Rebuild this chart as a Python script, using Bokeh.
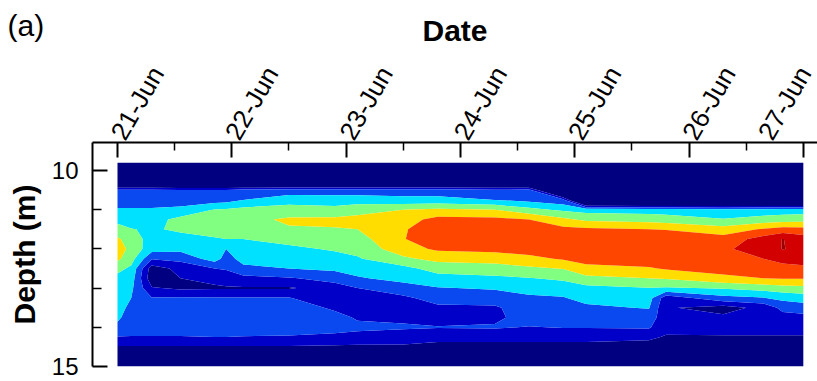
import numpy as np
from bokeh.plotting import figure
from bokeh.models import Range1d, FixedTicker
from bokeh.embed import file_html
from bokeh.resources import INLINE

# ---- data ----
# time of each profile, in days after 21-Jun 00:00
days = [0.0, 0.12, 0.30, 0.55, 0.85, 0.95, 1.10, 1.50, 1.90, 2.10, 2.50,
        2.80, 3.30, 3.60, 3.90, 4.10, 4.65, 4.80, 5.30, 5.65, 5.82, 6.00]
# depth of each value in a profile (m)
depths = [9.8, 10.0, 10.25, 10.5, 10.75, 11.0, 11.25, 11.5, 11.75, 12.0, 12.25,
          12.5, 12.75, 13.0, 13.25, 13.5, 13.75, 14.0, 14.25, 14.5, 14.75, 15.0]

# contoured quantity, one profile per time (top to bottom)
z_000 = [-3, -3, -3, 2.2, 2.55, 3.1, 3.7, 4.4, 5.15, 5.5, 5.2, 4.3, 3.7, 3.5, 3.4, 3.3, 3.15, 2.8, 1.95, 0.9, 0.4, 0.3]
z_012 = [-3, -3, -3, 2.2, 2.55, 3.1, 3.5, 4.05, 4.5, 4.7, 4.4, 3.8, 3.5, 3.2, 3.0, 2.8, 2.6, 2.4, 1.95, 0.9, 0.4, 0.3]
z_030 = [-3, -3, -3, 2.2, 2.55, 3.1, 3.6, 3.85, 3.6, 3.4, 2.1, 0.5, 0.3, 1.1, 2.05, 2.5, 2.6, 2.4, 1.95, 0.9, 0.4, 0.3]
z_055 = [-3, -3, -3, 2.1, 2.6, 3.2, 4.3, 4.2, 3.6, 3.3, 2.3, 1.3, 1.0, 0.8, 2.1, 2.5, 2.6, 2.45, 1.95, 0.9, 0.4, 0.3]
z_085 = [-3, -3, -3, 2.1, 2.5, 4.05, 4.5, 4.45, 3.9, 3.6, 3.45, 2.0, 1.2, 0.9, 2.05, 2.5, 2.6, 2.5, 2.0, 0.9, 0.4, 0.3]
z_095 = [-3, -3, -3, 2.1, 2.6, 4.1, 4.6, 4.5, 4.0, 3.0, 2.6, 2.1, 1.4, 0.9, 2.05, 2.5, 2.6, 2.5, 2.0, 0.9, 0.4, 0.3]
z_110 = [-3, -3, -3, 2.3, 3.0, 4.3, 4.7, 4.6, 4.0, 3.6, 3.35, 2.75, 1.7, 0.9, 2.05, 2.5, 2.6, 2.5, 1.95, 0.9, 0.4, 0.3]
z_150 = [-3, -3, -3, 2.4, 3.6, 4.4, 5.15, 4.9, 4.3, 3.8, 3.5, 3.0, 1.9, 0.9, 2.05, 2.5, 2.6, 2.5, 1.9, 0.9, 0.4, 0.3]
z_190 = [-3, -3, -3, 2.45, 3.5, 4.3, 5.2, 4.95, 4.5, 4.1, 3.7, 3.2, 2.4, 1.5, 1.3, 1.85, 2.3, 2.3, 1.8, 0.85, 0.4, 0.3]
z_210 = [-3, -3, -3, 2.45, 3.5, 4.6, 5.3, 5.0, 4.6, 4.3, 3.9, 3.4, 2.9, 2.0, 1.4, 1.3, 1.9, 2.2, 1.7, 0.8, 0.4, 0.3]
z_250 = [-3, -3, -3, 2.5, 3.3, 5.0, 5.6, 5.9, 5.95, 5.6, 4.8, 3.7, 3.3, 2.6, 1.8, 1.3, 1.85, 2.1, 1.6, 0.8, 0.4, 0.3]
z_280 = [-3, -3, -3, 2.5, 3.3, 5.2, 6.3, 6.6, 6.6, 6.15, 5.3, 4.4, 3.6, 2.95, 2.4, 1.8, 1.6, 2.05, 1.3, 0.7, 0.4, 0.3]
z_330 = [-3, -3, -3, 2.2, 3.0, 5.0, 6.25, 6.6, 6.6, 6.3, 5.45, 4.55, 3.8, 3.1, 2.5, 1.85, 1.8, 2.1, 1.3, 0.7, 0.4, 0.3]
z_360 = [-3, -3, -3, 2.3, 2.7, 4.3, 6.0, 6.5, 6.6, 6.4, 5.75, 4.8, 3.95, 3.3, 2.85, 2.6, 2.4, 1.95, 1.3, 0.7, 0.4, 0.3]
z_390 = [-3, -3, -3, -3, 2.3, 3.8, 5.2, 6.3, 6.7, 6.6, 6.1, 5.05, 4.2, 3.4, 2.95, 2.7, 2.5, 2.05, 1.3, 0.7, 0.4, 0.3]
z_410 = [-3, -3, -3, -3, -3, 3.6, 4.8, 6.2, 6.7, 6.8, 6.5, 5.6, 4.75, 3.7, 3.25, 2.85, 2.5, 2.05, 1.3, 0.7, 0.4, 0.3]
z_465 = [-3, -3, -3, -3, -3, 3.55, 4.6, 6.0, 6.6, 6.75, 6.55, 5.9, 5.0, 3.95, 3.4, 3.05, 2.55, 2.1, 1.2, 0.6, 0.4, 0.3]
z_480 = [-3, -3, -3, -3, -3, 3.45, 4.5, 5.95, 6.6, 6.8, 6.6, 6.1, 5.1, 3.9, 1.4, 1.1, 1.3, 1.3, 0.9, 0.5, 0.4, 0.3]
z_530 = [-3, -3, -3, -3, -3, 3.3, 4.05, 5.45, 6.4, 6.8, 6.85, 6.4, 5.75, 4.1, 2.7, 0.6, 1.2, 1.4, 0.9, 0.5, 0.4, 0.3]
z_565 = [-3, -3, -3, -3, -3, 3.35, 4.4, 6.1, 7.4, 7.6, 7.0, 6.5, 6.0, 4.4, 2.95, 1.3, 1.5, 1.4, 0.9, 0.5, 0.4, 0.3]
z_582 = [-3, -3, -3, -3, -3, 3.45, 4.5, 6.4, 8.03, 8.03, 7.3, 6.7, 6.05, 4.6, 3.3, 2.3, 1.6, 1.4, 0.9, 0.5, 0.4, 0.3]
z_600 = [-3, -3, -3, -3, -3, 3.5, 4.6, 6.3, 7.5, 7.8, 7.4, 6.8, 6.05, 4.7, 3.5, 2.5, 1.7, 1.4, 0.9, 0.5, 0.4, 0.3]

levels = [-4, 1, 2, 3, 4, 5, 6, 7, 8, 9]
level_colors = ["#000080", "#0000c8", "#0a48f0", "#00e1ff", "#80ff80",
                "#ffdd00", "#ff4600", "#d20000", "#9b0000"]

tick_days = [0, 1, 2, 3, 4, 5, 6]
tick_labels = ["21-Jun", "22-Jun", "23-Jun", "24-Jun", "25-Jun", "26-Jun", "27-Jun"]
minor_days = [0.5, 1.5, 2.5, 3.5, 4.5, 5.5]
depth_ticks = [10, 15]
depth_minor = [11, 12, 13, 14]

z = np.column_stack([z_000, z_012, z_030, z_055, z_085, z_095, z_110, z_150, z_190,
                     z_210, z_250, z_280, z_330, z_360, z_390, z_410, z_465, z_480,
                     z_530, z_565, z_582, z_600])

FONT = "Liberation Sans"

p = figure(width=817, height=381, output_backend="svg", toolbar_location=None,
           x_range=Range1d(-0.2187, 6.124), y_range=Range1d(15.0, 9.2857),
           x_axis_location="above",
           min_border_left=92, min_border_top=142, min_border_bottom=15,
           min_border_right=0)
p.outline_line_color = None
p.grid.visible = False
p.background_fill_color = "white"
p.border_fill_color = "white"

# panel tag "(a)" as the figure title, pulled into the top-left corner
p.title.text = "(a)"
p.title.align = "left"
p.title.offset = -85
p.title.standoff = -62
p.title.text_font = FONT
p.title.text_font_size = "30px"
p.title.text_font_style = "normal"
p.title.text_color = "black"

p.contour(x=days, y=depths, z=z, levels=levels, fill_color=level_colors)

xa = p.xaxis[0]
xa.ticker = FixedTicker(ticks=tick_days, minor_ticks=minor_days)
xa.major_label_overrides = {d: lab for d, lab in zip(tick_days, tick_labels)}
xa.major_label_orientation = np.pi / 3
xa.major_label_text_font = FONT
xa.major_label_text_font_size = "26px"
xa.major_label_text_color = "black"
xa.major_label_standoff = 5
xa.axis_label = "Date"
xa.axis_label_text_font = FONT
xa.axis_label_text_font_size = "30px"
xa.axis_label_text_font_style = "bold"
xa.axis_label_text_color = "black"
xa.axis_label_standoff = 4
xa.axis_line_width = 2
xa.major_tick_line_width = 2
xa.minor_tick_line_width = 1.5
xa.major_tick_in = 15
xa.major_tick_out = 0
xa.minor_tick_in = 8
xa.minor_tick_out = 0

ya = p.yaxis[0]
ya.ticker = FixedTicker(ticks=depth_ticks, minor_ticks=depth_minor)
ya.major_label_text_font = FONT
ya.major_label_text_font_size = "24px"
ya.major_label_text_color = "black"
ya.major_label_standoff = 14
ya.axis_label = "Depth (m)"
ya.axis_label_text_font = FONT
ya.axis_label_text_font_size = "30px"
ya.axis_label_text_font_style = "bold"
ya.axis_label_text_color = "black"
ya.axis_label_standoff = 8
ya.axis_line_width = 2
ya.major_tick_line_width = 2
ya.minor_tick_line_width = 1.5
ya.major_tick_in = 15
ya.major_tick_out = 0
ya.minor_tick_in = 9
ya.minor_tick_out = 0

open("out.html", "w").write(file_html(p, INLINE))
